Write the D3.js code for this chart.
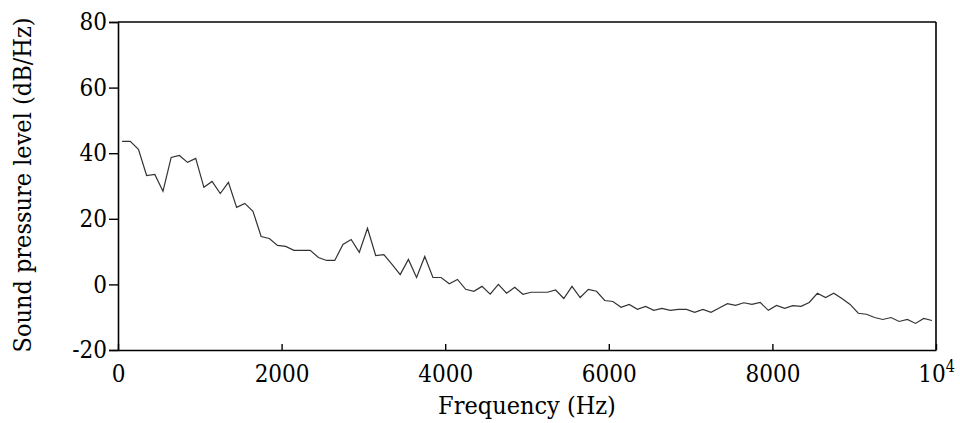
<!DOCTYPE html>
<html>
<head>
<meta charset="utf-8">
<script src="https://cdn.jsdelivr.net/npm/d3@7"></script>
<style>
  body { margin: 0; background: #fff; }
</style>
</head>
<body>
<div id="chart"></div>
<script>
// frequency bins (Hz)
var freqs = [50, 150, 250, 350, 450, 550, 650, 750, 850, 950,
  1050, 1150, 1250, 1350, 1450, 1550, 1650, 1750, 1850, 1950,
  2050, 2150, 2250, 2350, 2450, 2550, 2650, 2750, 2850, 2950,
  3050, 3150, 3250, 3350, 3450, 3550, 3650, 3750, 3850, 3950,
  4050, 4150, 4250, 4350, 4450, 4550, 4650, 4750, 4850, 4950,
  5050, 5150, 5250, 5350, 5450, 5550, 5650, 5750, 5850, 5950,
  6050, 6150, 6250, 6350, 6450, 6550, 6650, 6750, 6850, 6950,
  7050, 7150, 7250, 7350, 7450, 7550, 7650, 7750, 7850, 7950,
  8050, 8150, 8250, 8350, 8450, 8550, 8650, 8750, 8850, 8950,
  9050, 9150, 9250, 9350, 9450, 9550, 9650, 9750, 9850, 9950];

// sound pressure level (dB/Hz)
var spl = [43.6, 43.6, 41.2, 33.2, 33.5, 28.4, 38.7, 39.3, 37.2, 38.4,
  29.6, 31.4, 27.7, 31.1, 23.5, 24.7, 22.3, 14.6, 14.0, 11.9,
  11.6, 10.4, 10.4, 10.4, 8.2, 7.3, 7.3, 12.2, 13.7, 9.8,
  17.1, 8.8, 9.1, 6.1, 3.0, 7.6, 2.1, 8.5, 2.1, 2.1,
  0.2, 1.5, -1.5, -2.1, -0.6, -3.0, 0.0, -2.7, -0.9, -3.0,
  -2.4, -2.4, -2.4, -1.7, -4.3, -0.6, -4.0, -1.5, -2.1, -4.9,
  -5.2, -7.0, -6.1, -7.6, -6.7, -7.9, -7.3, -7.9, -7.6, -7.6,
  -8.5, -7.6, -8.5, -7.2, -5.9, -6.4, -5.6, -6.1, -5.5, -7.9,
  -6.4, -7.3, -6.5, -6.7, -5.5, -2.7, -4.0, -2.7, -4.3, -6.1,
  -8.8, -9.1, -10.1, -10.7, -10.1, -11.3, -10.7, -11.9, -10.4, -11.0];

var xTicks = [0, 2000, 4000, 6000, 8000, 10000];
var yTicks = [-20, 0, 20, 40, 60, 80];

var font = "'DejaVu Serif Condensed', 'DejaVu Serif', serif";

var margin = {top: 22, right: 24, bottom: 73, left: 118},
    width = 960 - margin.left - margin.right,
    height = 423 - margin.top - margin.bottom;

var x = d3.scaleLinear().domain([0, 10000]).range([0, width]);
var y = d3.scaleLinear().domain([-20, 80]).range([height, 0]);

var svg = d3.select("#chart")
    .append("svg")
    .attr("width", 960)
    .attr("height", 423)
  .append("g")
    .attr("transform", "translate(" + margin.left + "," + margin.top + ")");

// frame (top and right)
svg.append("line")
    .attr("x1", 0).attr("x2", width).attr("y1", 0).attr("y2", 0)
    .attr("stroke", "#000").attr("stroke-width", 1.6);
svg.append("line")
    .attr("x1", width).attr("x2", width).attr("y1", 0).attr("y2", height)
    .attr("stroke", "#000").attr("stroke-width", 1.6);

// x axis, ticks pointing inward
var xAxis = svg.append("g")
    .attr("transform", "translate(0," + height + ")")
    .call(d3.axisBottom(x).tickValues(xTicks).tickSizeInner(-6).tickSizeOuter(0)
      .tickFormat(function(d) { return d === 10000 ? "" : String(d); }));
xAxis.selectAll("text").attr("y", 15).attr("dy", "0.71em");

// 10^4 label
var lastTick = xAxis.selectAll(".tick").filter(function(d) { return d === 10000; }).select("text");
lastTick.append("tspan").text("10");
lastTick.append("tspan").text("4").attr("font-size", 16).attr("dy", "-0.6em");

// y axis (plain hyphen for negatives, as in the figure)
var yAxis = svg.append("g")
    .call(d3.axisLeft(y).tickValues(yTicks).tickSize(9).tickPadding(2)
      .tickFormat(function(d) { return String(d); }));

xAxis.attr("font-family", font);
yAxis.attr("font-family", font);
svg.selectAll(".domain").attr("stroke", "#000").attr("stroke-width", 1.6);
svg.selectAll(".tick line").attr("stroke", "#000").attr("stroke-width", 1.4);
svg.selectAll(".tick text").attr("font-size", 24).style("font-family", font);

// line
var line = d3.line()
    .x(function(d, i) { return x(freqs[i]); })
    .y(function(d) { return y(d); });

svg.append("path")
    .datum(spl)
    .attr("fill", "none")
    .attr("stroke", "#333")
    .attr("stroke-width", 1.2)
    .attr("d", line);

// axis labels
svg.append("text")
    .attr("x", 527 - margin.left)
    .attr("y", height + 64)
    .attr("text-anchor", "middle")
    .style("font-family", font)
    .attr("font-size", 25)
    .text("Frequency (Hz)");

svg.append("text")
    .attr("transform", "translate(" + (31 - margin.left) + "," + (185 - margin.top) + ") rotate(-90)")
    .attr("text-anchor", "middle")
    .style("font-family", font)
    .attr("font-size", 25)
    .text("Sound pressure level (dB/Hz)");
</script>
</body>
</html>
